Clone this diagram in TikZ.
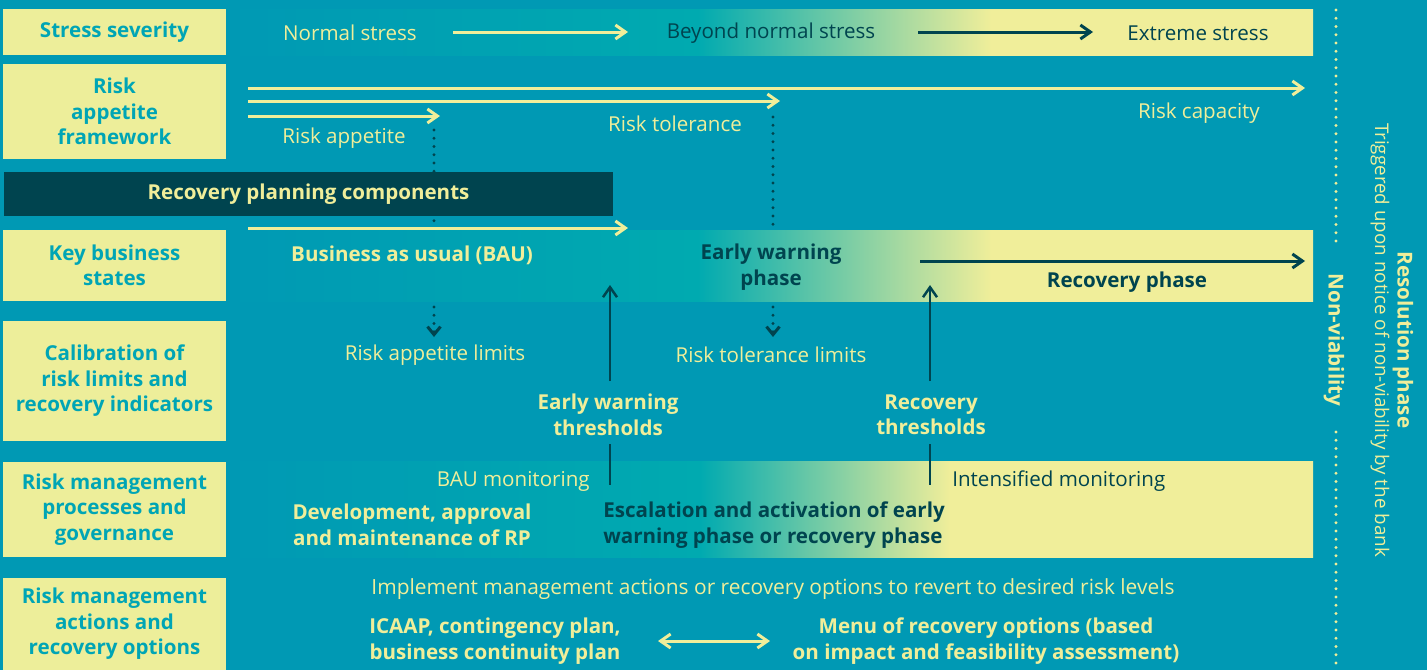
\documentclass[tikz,border=0pt]{standalone}
\usepackage{fontspec}
\setmainfont{Open Sans}
\usetikzlibrary{arrows.meta}
\definecolor{seabg}{HTML}{0099B4}
\definecolor{bandteal}{HTML}{00AAB0}
\definecolor{paleyel}{HTML}{F0EE9A}
\definecolor{boxyel}{HTML}{EDEE9A}
\definecolor{deepteal}{HTML}{00444F}
\definecolor{labteal}{HTML}{00A5B5}
% band shadings: path is mapped on 25bp--75bp
\pgfdeclarehorizontalshading{wideband}{100bp}{color(0bp)=(seabg); color(25bp)=(seabg); color(46.7bp)=(bandteal); color(60.2bp)=(paleyel); color(100bp)=(paleyel)}
\pgfdeclarehorizontalshading{shortband}{100bp}{color(0bp)=(seabg); color(25bp)=(seabg); color(46.8bp)=(bandteal); color(58.3bp)=(paleyel); color(100bp)=(paleyel)}

\begin{document}
\begin{tikzpicture}[x=0.2mm, y=-0.2mm,
    every node/.style={font=\fontsize{11.7}{14.5}\selectfont, text=paleyel, align=center, inner sep=0pt},
    rowlabel/.style={fill=boxyel, text=labteal, font=\bfseries\fontsize{11.7}{14.5}\selectfont, minimum width=44.6mm},
    boldtxt/.style={font=\bfseries\fontsize{11.7}{14.5}\selectfont},
    darktxt/.style={text=deepteal},
    ylink/.style={draw=paleyel, line width=0.6mm, -{Straight Barb[length=2mm,width=2.8mm]}},
    dlink/.style={draw=deepteal, line width=0.6mm, -{Straight Barb[length=2mm,width=2.8mm]}},
    dotline/.style={line width=0.65mm, line cap=round, dash pattern=on 0pt off 1.65mm}]
			\useasboundingbox (0,0) rectangle (1427,670);
			\fill[seabg] (0,0) rectangle (1427,670);
			%%%%%%%%%%%%%%%%%%%%%%%%%%%%%%%% bands
			\shade[shading=wideband] (226,9) rectangle (1313,55);
			\shade[shading=wideband] (226,230) rectangle (1313,301);
			\shade[shading=shortband] (226,461) rectangle (1313,557);
			%%%%%%%%%%%%%%%%%%%%%%%%%%%%%%%% row labels
			\node[rowlabel, minimum height=9.2mm] (sev) at (114.5,32) {Stress severity};
			\node[rowlabel, minimum height=19mm] (raf) at (114.5,111.5) {Risk\\appetite\\framework};
			\node[rowlabel, minimum height=14.2mm] (kbs) at (114.5,265.5) {Key business\\states};
			\node[rowlabel, minimum height=24mm] (cal) at (114.5,381) {Calibration of\\risk limits and\\recovery indicators};
			\node[rowlabel, minimum height=19mm] (rmp) at (114.5,509.5) {Risk management\\processes and\\governance};
			\node[rowlabel, minimum height=18.4mm] (rma) at (114.5,624) {Risk management\\actions and\\recovery options};
			%%%%%%%%%%%%%%%%%%%%%%%%%%%%%%%% stress severity
			\node (normal) at (350,33) {Normal stress};
			\node[darktxt] (beyond) at (771,33) {Beyond normal stress};
			\node[darktxt] (extreme) at (1198,33) {Extreme stress};
			\coordinate (s1a) at (453,32); \coordinate (s1b) at (628,32);
			\coordinate (s2a) at (918,32); \coordinate (s2b) at (1093,32);
			\draw[ylink] (s1a) -- (s1b);
			\draw[dlink] (s2a) -- (s2b);
			%%%%%%%%%%%%%%%%%%%%%%%%%%%%%%%% risk appetite framework
			\coordinate (capA) at (248,88); \coordinate (capB) at (1305,88);
			\coordinate (tolA) at (248,101); \coordinate (tolB) at (780,101);
			\coordinate (appA) at (248,116); \coordinate (appB) at (440,116);
			\draw[ylink] (capA) -- (capB);
			\draw[ylink] (tolA) -- (tolB);
			\draw[ylink] (appA) -- (appB);
			\node (appetite) at (344,138) {Risk appetite};
			\node (tolerance) at (675,124) {Risk tolerance};
			\node (capacity) at (1199,113) {Risk capacity};
			\coordinate (appD1) at (434,130); \coordinate (appD2) at (434,226);
			\coordinate (tolD1) at (773,117); \coordinate (tolD2) at (773,226);
			\draw[deepteal, dotline] (appD1) -- (appD2);
			\draw[deepteal, dotline] (tolD1) -- (tolD2);
			%%%%%%%%%%%%%%%%%%%%%%%%%%%%%%%% components bar
			\node[fill=deepteal, boldtxt, minimum width=121.8mm, minimum height=8.8mm] (rpc) at (308.5,194) {Recovery planning components};
			%%%%%%%%%%%%%%%%%%%%%%%%%%%%%%%% key business states
			\coordinate (bauA) at (248,228); \coordinate (bauB) at (628,228);
			\draw[ylink] (bauA) -- (bauB);
			\node[boldtxt] (bau) at (412,255) {Business as usual (BAU)};
			\node[boldtxt, darktxt] (ewp) at (771,267) {Early warning\\phase};
			\node[boldtxt, darktxt] (recp) at (1127,282) {Recovery phase};
			\coordinate (recA) at (920,261); \coordinate (recB) at (1305,261);
			\draw[dlink] (recA) -- (recB);
			%%%%%%%%%%%%%%%%%%%%%%%%%%%%%%%% calibration
			\coordinate (lim1a) at (434,307); \coordinate (lim1b) at (434,337);
			\coordinate (lim2a) at (773,307); \coordinate (lim2b) at (773,337);
			\draw[deepteal, dotline, -{Straight Barb[length=1.6mm,width=2.6mm,line width=0.6mm]}] (lim1a) -- (lim1b);
			\draw[deepteal, dotline, -{Straight Barb[length=1.6mm,width=2.6mm,line width=0.6mm]}] (lim2a) -- (lim2b);
			\node (applim) at (435,355) {Risk appetite limits};
			\node (tollim) at (771,355) {Risk tolerance limits};
			\node[boldtxt] (ewt) at (608,415) {Early warning\\thresholds};
			\node[boldtxt] (rct) at (931,415) {Recovery\\thresholds};
			\coordinate (ewUp) at (610,285); \coordinate (ewLo) at (610,381);
			\coordinate (rcUp) at (930,285); \coordinate (rcLo) at (930,381);
			\draw[dlink, line width=0.5mm] (ewLo) -- (ewUp);
			\draw[dlink, line width=0.5mm] (rcLo) -- (rcUp);
			\coordinate (ewT1) at (610,444); \coordinate (ewT2) at (610,485);
			\coordinate (rcT1) at (930,444); \coordinate (rcT2) at (930,485);
			\draw[deepteal, line width=0.5mm] (ewT1) -- (ewT2);
			\draw[deepteal, line width=0.5mm] (rcT1) -- (rcT2);
			%%%%%%%%%%%%%%%%%%%%%%%%%%%%%%%% processes and governance
			\node[anchor=east] (baumon) at (590,481) {BAU monitoring};
			\node[anchor=west, darktxt] (intmon) at (952,481) {Intensified monitoring};
			\node[boldtxt] (devrp) at (412,525) {Development, approval\\and maintenance of RP};
			\node[boldtxt, darktxt, anchor=west, align=left] (escal) at (603,525) {Escalation and activation of early\\warning phase or recovery phase};
			%%%%%%%%%%%%%%%%%%%%%%%%%%%%%%%% actions and options
			\node[font=\fontsize{11.9}{14.5}\selectfont] (implement) at (773,589) {Implement management actions or recovery options to revert to desired risk levels};
			\node[boldtxt] (icaap) at (495,641) {ICAAP, contingency plan,\\business continuity plan};
			\node[boldtxt] (menu) at (986,641) {Menu of recovery options (based\\on impact and feasibility assessment)};
			\coordinate (dblA) at (658,641); \coordinate (dblB) at (770,641);
			\draw[ylink, {Straight Barb[length=2mm,width=2.8mm]}-{Straight Barb[length=2mm,width=2.8mm]}] (dblA) -- (dblB);
			%%%%%%%%%%%%%%%%%%%%%%%%%%%%%%%% resolution side
			\coordinate (nv1) at (1336,10); \coordinate (nv2) at (1336,245);
			\coordinate (nv3) at (1336,432); \coordinate (nv4) at (1336,666);
			\draw[paleyel, dotline] (nv1) -- (nv2);
			\draw[paleyel, dotline] (nv3) -- (nv4);
			\node[boldtxt, rotate=-90] (nonviab) at (1334,340) {Non-viability};
			\node[boldtxt, rotate=-90] (resol) at (1403,340) {Resolution phase};
			\node[rotate=-90, font=\fontsize{10.7}{12}\selectfont] (trig) at (1380,340) {Triggered upon notice of non-viability by the bank};
		\end{tikzpicture}
\end{document}
